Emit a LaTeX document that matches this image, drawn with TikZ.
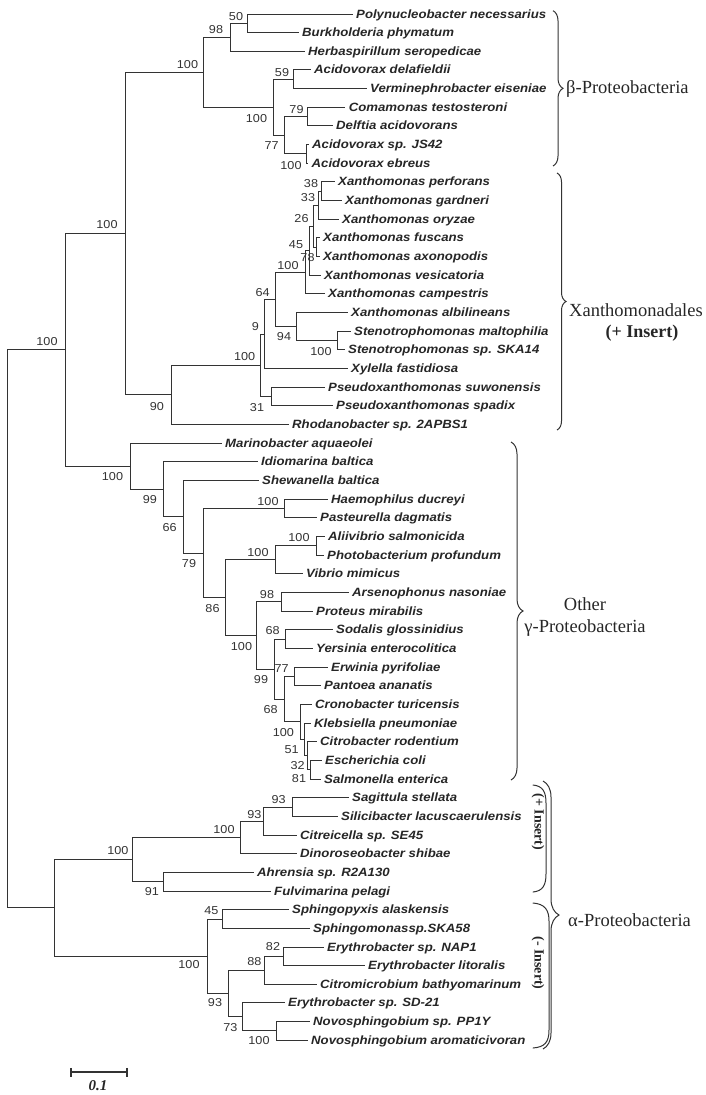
\documentclass[tikz,border=0pt]{standalone}
\usepackage{fontspec}
\setmainfont{Liberation Serif}
\newfontfamily\leaffont[FakeStretch=1.1]{Liberation Sans}
\usetikzlibrary{decorations.pathreplacing}
\tikzset{
  leaf/.style={anchor=west,inner xsep=4pt,inner ysep=0pt,text height=8pt,text depth=0pt,
    font=\leaffont\bfseries\itshape\fontsize{12}{14}\selectfont,text=black!85},
  boot/.style={inner sep=0pt,font=\leaffont\fontsize{11.5}{12}\selectfont,text=black!80},
  branch/.style={line width=1pt,draw=black!80,line cap=rect},
  grp/.style={inner sep=0pt,font=\fontsize{18.5}{22}\selectfont,text=black!85},
  ins/.style={inner sep=0pt,font=\bfseries\fontsize{14}{14}\selectfont,text=black!85},
  clam/.style={decorate,decoration={brace,amplitude=#1},line width=1pt,draw=black!80},
}
\newcommand\rowy[1]{14+18.66*(#1)}% row of a leaf
\begin{document}
\begin{tikzpicture}[x=1pt,y=-1pt]
\useasboundingbox (0,0) rectangle (706,1095);
% leaves: row / end of branch / name
\foreach \i/\x/\t in {0/352/Polynucleobacter necessarius,1/298/Burkholderia phymatum,
  2/304/Herbaspirillum seropedicae,3/310/Acidovorax delafieldii,4/366/Verminephrobacter eiseniae,
  5/344.6/Comamonas testosteroni,6/332/Delftia acidovorans,7/308/Acidovorax sp. JS42,
  8/307.5/Acidovorax ebreus,9/334/Xanthomonas perforans,10/341/Xanthomonas gardneri,
  11/338/Xanthomonas oryzae,12/319/Xanthomonas fuscans,13/319/Xanthomonas axonopodis,
  14/320/Xanthomonas vesicatoria,15/324/Xanthomonas campestris,16/347/Xanthomonas albilineans,
  17/350/Stenotrophomonas maltophilia,18/344/Stenotrophomonas sp. SKA14,19/347/Xylella fastidiosa,
  20/324/Pseudoxanthomonas suwonensis,21/332/Pseudoxanthomonas spadix,22/288/Rhodanobacter sp. 2APBS1,
  23/221/Marinobacter aquaeolei,24/257/Idiomarina baltica,25/258/Shewanella baltica,
  26/327/Haemophilus ducreyi,27/316/Pasteurella dagmatis,28/324/Aliivibrio salmonicida,
  29/323/Photobacterium profundum,30/302/Vibrio mimicus,31/348/Arsenophonus nasoniae,
  32/312/Proteus mirabilis,33/332/Sodalis glossinidius,34/312/Yersinia enterocolitica,
  35/327/Erwinia pyrifoliae,36/320/Pantoea ananatis,37/311/Cronobacter turicensis,
  38/310/Klebsiella pneumoniae,39/316/Citrobacter rodentium,40/321/Escherichia coli,
  41/320/Salmonella enterica,42/348/Sagittula stellata,43/337/Silicibacter lacuscaerulensis,
  44/296/Citreicella sp. SE45,45/296/Dinoroseobacter shibae,46/253/Ahrensia sp. R2A130,
  47/270/Fulvimarina pelagi,48/288/Sphingopyxis alaskensis,49/309/Sphingomonassp.SKA58,
  50/323/Erythrobacter sp. NAP1,51/364/Erythrobacter litoralis,52/316/Citromicrobium bathyomarinum,
  53/284/Erythrobacter sp. SD-21,54/309/Novosphingobium sp. PP1Y,55/307/Novosphingobium aromaticivoran}
  \node[leaf] (L\i) at (\x,{\rowy{\i}}) {\t};
% inner nodes: name / x / row
\coordinate (root) at (7.9,{\rowy{32.95}});
\foreach \n/\x/\k in {nM/65.4/18,nBX/125/11.77,nB/203.6/3.125,n98/230.4/1.25,n50/247.5/0.5,
  nB2/273.3/5,n59/293.6/3.5,n77/284.6/6.5,n79/307/5.5,nJS/306.4/7.5,
  n90/171.4/20.41,nA/260.7/18.82,n9/264.3/17.15,n64/275/15.3,nX/305/13.84,n45/309.3/12.6875,
  n26/313.3/11.375,n33/318.3/10.25,n38/321.7/9.5,nfa/316.7/12.5,n94/296.4/16.75,nSt/337.5/17.5,
  n31/271.4/20.5,
  nG/130.4/24.24,n99/163.2/25.47,n66/183.2/26.95,n79g/203.6/28.89,nH/284.6/26.5,n86/225.7/31.28,
  nV/275.7/29.25,nAl/316/28.5,nE/256/33.3,n98g/281/31.5,n99b/274.3/35.11,n68a/285/33.5,
  n68b/284/36.72,n77g/294/35.5,nC/300/37.94,n51/304.3/38.875,n32/307.7/39.75,n81/310/40.5,
  nAlpha/54.3/47.9,nA1/132.9/45.31,nR/240/44.125,n93o/263.6/43.25,n93i/292/42.5,n91/163.2/46.5,
  nS/207/50.5,n45a/222.5/48.5,n93s/228.6/52.5,n88/264.3/51.25,n82/283.2/50.5,n73/242.9/53.75,
  nN/276/54.5}
  \coordinate (\n) at (\x,{\rowy{\k}});
% branches between inner nodes
\foreach \a/\b in {root/nM,root/nAlpha,nM/nBX,nM/nG,nBX/nB,nBX/n90,nB/n98,nB/nB2,n98/n50,
  nB2/n59,nB2/n77,n77/n79,n77/nJS,n90/nA,nA/n9,nA/n31,n9/n64,n64/nX,n64/n94,nX/n45,n45/n26,
  n26/n33,n26/nfa,n33/n38,n94/nSt,nG/n99,n99/n66,n66/n79g,n79g/nH,n79g/n86,n86/nV,n86/nE,
  nV/nAl,nE/n98g,nE/n99b,n99b/n68a,n99b/n68b,n68b/n77g,n68b/nC,nC/n51,n51/n32,n32/n81,
  nAlpha/nA1,nAlpha/nS,nA1/nR,nA1/n91,nR/n93o,n93o/n93i,nS/n45a,nS/n93s,n93s/n88,n93s/n73,
  n88/n82,n73/nN}
  \draw[branch] (\a) |- (\b);
% branches to leaves
\foreach \a/\b in {n50/0,n50/1,n98/2,n59/3,n59/4,n79/5,n79/6,nJS/7,nJS/8,n38/9,n38/10,n33/11,
  nfa/12,nfa/13,n45/14,nX/15,n94/16,nSt/17,nSt/18,n9/19,n31/20,n31/21,n90/22,nG/23,n99/24,
  n66/25,nH/26,nH/27,nAl/28,nAl/29,nV/30,n98g/31,n98g/32,n68a/33,n68a/34,n77g/35,n77g/36,
  nC/37,n51/38,n32/39,n81/40,n81/41,n93i/42,n93i/43,n93o/44,nR/45,n91/46,n91/47,n45a/48,
  n45a/49,n82/50,n82/51,n88/52,n73/53,nN/54,nN/55}
  \draw[branch] (\a) |- (L\b.west);
% bootstrap values
\foreach \x/\y/\t [count=\c] in {236/16.7/50,216/30/98,187.5/65/100,282/72.7/59,296.5/110/79,
  256.5/118.6/100,271.7/146/77,291/166/100,107/225/100,47/341.7/100,311/184/38,308/197.3/33,
  301.5/218.8/26,296/245/45,307.5/257.5/78,288/265.5/100,262.6/292.5/64,284/337/94,321/352/100,
  255.4/326.7/9,244.6/356.7/100,257/408/31,157/406.7/90,112.5/476.7/100,150/500/99,169.6/527.3/66,
  189/564/79,268/501.7/100,212.5/609/86,258/552.7/100,299/538/100,241.5/646.5/100,267/595/98,
  272.7/631/68,261/680/99,281.7/668.3/77,270.7/710/68,283.3/732.3/100,291.7/750/51,297.7/766/32,
  299/779/81,278.6/799.3/93,254.3/815/93,224/829.3/100,117.9/851/100,151.8/891.7/91,211.4/910.7/45,
  273/946.7/82,189/965/100,254.3/961.7/88,215/1002.7/93,230.4/1027.3/73,259/1040.7/100}
  \node[boot] (bs\c) at (\x,\y) {\t};
% groups
\draw[clam=10pt] (553,10.7) -- (553,166);
\node[grp,anchor=west] (beta) at (566,88.6) {β-Proteobacteria};
\draw[clam=9pt] (557,173) -- (557,430);
\node[grp,anchor=west] (xan) at (569,310) {Xanthomonadales};
\node[grp,font=\bfseries\fontsize{18}{21.6}\selectfont] (xanins) at (642,333) {(+ Insert)};
\draw[clam=12pt] (511,442) -- (511,780);
\node[grp,align=center] (gam) at (585,617) {Other\\γ-Proteobacteria};
\draw[branch,line cap=round] (533,785) .. controls (543,786) and (546,792) .. (546,803)
  -- (546,874) .. controls (546,885) and (543,891) .. (533,892);
\draw[branch,line cap=round] (533,903) .. controls (545,904) and (549,910) .. (549,921)
  -- (549,1030) .. controls (549,1042) and (545,1047) .. (533,1048);
\node[ins,rotate=-90] (plus) at (538,822) {(+ Insert)};
\node[ins,rotate=-90] (minus) at (538,963) {(- Insert)};
\draw[clam=16pt] (543,781) -- (543,1049);
\node[grp,anchor=west] (alp) at (568,920) {α-Proteobacteria};
% scale bar
\coordinate (sbl) at (70.7,1072.3);
\coordinate (sbr) at (126.8,1072.3);
\draw[line width=2pt,black!80] (sbl) -- (sbr) (sbl)+(0,-4.5) -- +(0,4.5) (sbr)+(0,-4.5) -- +(0,4.5);
\node[font=\bfseries\itshape\fontsize{15}{15}\selectfont,text=black!85] (sbt) at (98,1086) {0.1};
\end{tikzpicture}
\end{document}
